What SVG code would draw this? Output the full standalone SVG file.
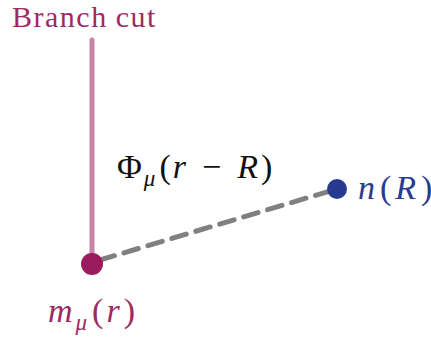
<svg xmlns="http://www.w3.org/2000/svg" width="431" height="339" viewBox="0 0 431 339">
<style>
.t{font-family:"Liberation Serif","DejaVu Serif",serif;}
.i{font-style:italic;}
</style>
<rect width="431" height="339" fill="#ffffff"/>
<g id="connectors">
<line x1="92" y1="40" x2="92" y2="262" stroke="#c584a8" stroke-width="5" stroke-linecap="round"/>
<line x1="100" y1="260" x2="330" y2="191" stroke="#808080" stroke-width="5" stroke-dasharray="15 10" stroke-linecap="round"/>
</g>
<g id="branch-label">
<text class="t" x="12" y="27" font-size="30" fill="#9e2a63" xml:space="preserve">B<tspan dx="1.5">r</tspan><tspan dx="1.5">a</tspan><tspan dx="1.5">n</tspan><tspan dx="1.5">c</tspan><tspan dx="1.5">h </tspan><tspan dx="2">c</tspan><tspan dx="1.5">u</tspan><tspan dx="1.5">t</tspan></text>
</g>
<g id="phi-label">
<text class="t" x="117" y="178" font-size="34" fill="#111">Φ<tspan class="i" font-size="23" dy="8" dx="2">μ</tspan><tspan dy="-8" dx="4">(</tspan><tspan class="i" dx="2">r</tspan><tspan dx="16">−</tspan><tspan class="i" dx="16">R</tspan><tspan dx="3">)</tspan></text>
</g>
<g id="node-m">
<circle cx="92" cy="264" r="11" fill="#9b1c5e"/>
<text class="t" x="48" y="322" font-size="34" fill="#9e2a63"><tspan class="i">m</tspan><tspan class="i" font-size="23" dy="8" dx="3">μ</tspan><tspan dy="-8" dx="5">(</tspan><tspan class="i" dx="3">r</tspan><tspan dx="4">)</tspan></text>
</g>
<g id="node-n">
<circle cx="337" cy="189" r="10" fill="#283a8f"/>
<text class="t" x="358" y="199" font-size="34" fill="#2a3a8e"><tspan class="i">n</tspan><tspan dx="5">(</tspan><tspan class="i" dx="4">R</tspan><tspan dx="5">)</tspan></text>
</g>
</svg>
